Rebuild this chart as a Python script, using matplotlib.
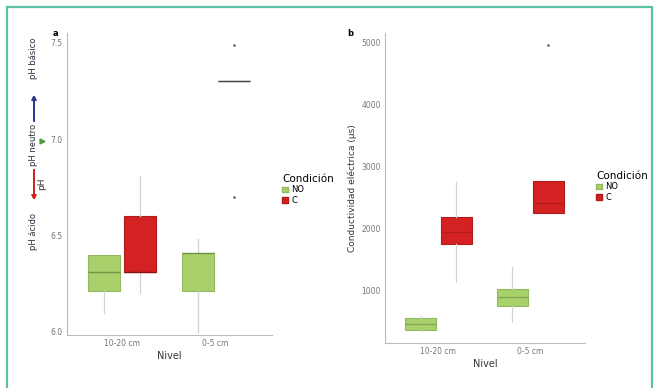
import numpy as np
import matplotlib.pyplot as plt
from matplotlib.patches import Patch, Rectangle
from matplotlib.lines import Line2D

# Datos (resumen de cajas: whislo, q1, med, q3, whishi, outliers)
niveles = ['10-20 cm', '0-5 cm']
condiciones = ['NO', 'C']

ph_NO = [(6.10, 6.21, 6.31, 6.40, 6.40, []),
         (6.00, 6.21, 6.41, 6.41, 6.48, [])]
ph_C = [(6.20, 6.31, 6.31, 6.60, 6.81, []),
        (7.30, 7.30, 7.30, 7.30, 7.30, [7.49, 6.70])]

ce_NO = [(350, 371, 470, 565, 600, []),
         (500, 758, 900, 1032, 1387, [])]
ce_C = [(1145, 1758, 1950, 2194, 2758, []),
        (2250, 2258, 2420, 2774, 2780, [4970])]

ph_ticks = [6.0, 6.5, 7.0, 7.5]
ce_ticks = [1000, 2000, 3000, 4000, 5000]

verde = '#a8d16c'
verde_borde = '#94b862'
rojo = '#d42121'
rojo_borde = '#b01c1c'
gris = '#555555'


def stats(filas):
    return [dict(whislo=a, q1=b, med=c, q3=d, whishi=e, fliers=f)
            for a, b, c, d, e, f in filas]


def cajas(ax, filas, pos, color, borde, med_color):
    return ax.bxp(stats(filas), positions=pos, widths=0.34, patch_artist=True,
                  showcaps=False,
                  boxprops=dict(facecolor=color, edgecolor=borde, linewidth=0.8),
                  medianprops=dict(color=med_color, linewidth=1.0),
                  whiskerprops=dict(color='#d2d2d2', linewidth=0.9),
                  flierprops=dict(marker='o', markersize=1.8,
                                  markerfacecolor=gris, markeredgecolor='none'))


def estilo(ax, ticks, ylim, ylabel):
    ax.set_xlim(0.42, 2.6)
    ax.set_ylim(*ylim)
    ax.set_xticks([1, 2])
    ax.set_xticklabels(niveles)
    ax.set_yticks(ticks)
    ax.tick_params(length=0, labelsize=5.5, labelcolor='#777777', pad=3)
    for s in ['top', 'right']:
        ax.spines[s].set_visible(False)
    for s in ['left', 'bottom']:
        ax.spines[s].set_color('#bbbbbb')
        ax.spines[s].set_linewidth(0.8)
    ax.set_xlabel('Nivel', fontsize=7, color='#333333', labelpad=2)
    ax.set_ylabel(ylabel, fontsize=6.5, color='#333333', labelpad=3)


def leyenda(fig, x, y):
    h = [Patch(facecolor=verde, edgecolor=verde_borde, label='NO'),
         Patch(facecolor=rojo, edgecolor=rojo_borde, label='C')]
    fig.legend(handles=h, title='Condición', loc='upper left',
               bbox_to_anchor=(x, y), frameon=False, fontsize=6,
               title_fontsize=7.5, handlelength=0.7, handleheight=0.7,
               handletextpad=0.4, labelspacing=0.15, borderpad=0,
               alignment='left')


fig = plt.figure(figsize=(6.57, 3.88), dpi=100)

# Panel a: pH
ax1 = fig.add_axes([0.102, 0.137, 0.312, 0.778])
cajas(ax1, ph_NO, [0.81, 1.81], verde, verde_borde, '#6f9440')
bp = cajas(ax1, ph_C, [1.2, 2.2], rojo, rojo_borde, '#8a1515')
bp['medians'][1].set_color('#444444')  # caja colapsada en 0-5 cm
estilo(ax1, ph_ticks, (5.984, 7.552), 'pH')
ax1.set_yticklabels(['6.0', '6.5', '7.0', '7.5'])

# Panel b: conductividad
ax2 = fig.add_axes([0.586, 0.116, 0.304, 0.799])
cajas(ax2, ce_NO, [0.81, 1.81], verde, verde_borde, '#80a650')
cajas(ax2, ce_C, [1.2, 2.2], rojo, rojo_borde, '#b51c1c')
estilo(ax2, ce_ticks, (161, 5161), 'Conductividad eléctrica (µs)')

leyenda(fig, 278 / 657, 1 - 170 / 388)
leyenda(fig, 592 / 657, 1 - 167 / 388)

# Etiquetas de panel
fig.text(55 / 657, 1 - 33 / 388, 'a', fontsize=6, fontweight='bold',
         ha='center', va='center')
fig.text(350 / 657, 1 - 34 / 388, 'b', fontsize=6, fontweight='bold',
         ha='center', va='center')

# Escala de pH al costado del eje
def fy(p):
    return 1 - p / 388

xa = 34 / 657
fig.text(xa, fy(58), 'pH básico', rotation=90, fontsize=6, color='#2a2a40',
         ha='center', va='center')
fig.text(xa, fy(145), 'pH neutro', rotation=90, fontsize=6, color='#2a2a40',
         ha='center', va='center')
fig.text(xa, fy(231), 'pH ácido', rotation=90, fontsize=6, color='#2a2a40',
         ha='center', va='center')
fig.add_artist(plt.annotate('', xy=(xa, fy(92)), xytext=(xa, fy(124)),
                            xycoords='figure fraction',
                            arrowprops=dict(arrowstyle='-|>', color='#2b3a8c',
                                            lw=1.3, mutation_scale=6)))
fig.add_artist(plt.annotate('', xy=(xa, fy(203)), xytext=(xa, fy(167)),
                            xycoords='figure fraction',
                            arrowprops=dict(arrowstyle='-|>', color='#d42121',
                                            lw=1.3, mutation_scale=6)))
fig.add_artist(Line2D([42 / 657], [fy(141)], marker='>', markersize=3.5,
                      color='#4c9a3a', transform=fig.transFigure))

# Marco
fig.add_artist(Rectangle((7 / 657, -0.05), 645 / 657, 1.05 - 7 / 388,
                         transform=fig.transFigure, fill=False,
                         edgecolor='#5cc0a6', linewidth=1.6))

fig.savefig('out.png', dpi=100)
